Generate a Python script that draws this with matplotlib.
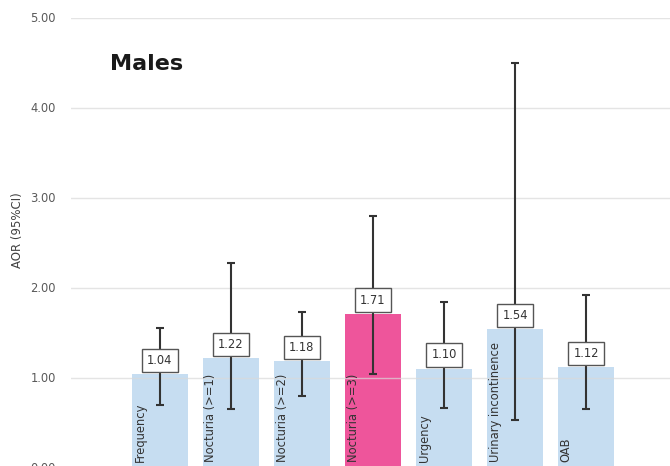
import numpy as np
import matplotlib.pyplot as plt

# data
categories = ['Frequency', 'Nocturia (>=1)', 'Nocturia (>=2)', 'Nocturia (>=3)',
              'Urgency', 'Urinary incontinence', 'OAB']
aor = [1.04, 1.22, 1.18, 1.71, 1.10, 1.54, 1.12]
ci_low = [0.69, 0.65, 0.79, 1.04, 0.66, 0.53, 0.65]
ci_high = [1.55, 2.27, 1.73, 2.79, 1.84, 4.49, 1.92]
highlight = 'Nocturia (>=3)'

blue = '#c6ddf1'
pink = '#ee559b'

fig = plt.figure(figsize=(6.70, 4.66), dpi=100)
# axes run off the right and bottom edges, like the cropped reference
ax = fig.add_axes([71 / 670, -1.5 / 466, 599 / 670, 450 / 466])

x = np.arange(len(categories))
colors = [pink if c == highlight else blue for c in categories]
ax.bar(x, aor, width=0.79, color=colors, zorder=2)

aor_arr = np.array(aor)
yerr = [aor_arr - np.array(ci_low), np.array(ci_high) - aor_arr]
ax.errorbar(x, aor, yerr=yerr, fmt='none', ecolor='#333333', elinewidth=1.5,
            capsize=3, capthick=1.5, zorder=4)

for xi, v in zip(x, aor):
    ax.text(xi, v + 0.15, f'{v:.2f}', ha='center', va='center', fontsize=8.3,
            color='#333333', zorder=5,
            bbox=dict(boxstyle='square,pad=0.45', fc='white', ec='#555555', lw=1))

for xi, c in zip(x, categories):
    ax.text(xi - 0.28, 0.06, c, rotation=90, ha='center', va='bottom',
            fontsize=8.3, color='#333333', zorder=5)

ax.text(-0.70, 4.48, 'Males', fontsize=16, fontweight='bold', color='#1a1a1a',
        ha='left', va='center')

ax.set_xlim(-1.25, 7.18)
ax.set_ylim(0, 5)
ax.set_yticks(np.arange(0, 5.01, 1))
ax.set_yticklabels([f'{t:.2f}' for t in np.arange(0, 5.01, 1)])
ax.tick_params(axis='y', length=0, labelsize=8.3, labelcolor='#595959', pad=11)
ax.set_xticks([])
ax.grid(axis='y', color='#d9d9d9', lw=1, alpha=0.7, zorder=3)
ax.set_axisbelow(False)
for s in ax.spines.values():
    s.set_visible(False)
fig.text(18 / 670, 1 - 230 / 466, 'AOR (95%CI)', rotation=90, fontsize=8.5,
         color='#404040', ha='center', va='center')

fig.savefig('out.png', dpi=100)
